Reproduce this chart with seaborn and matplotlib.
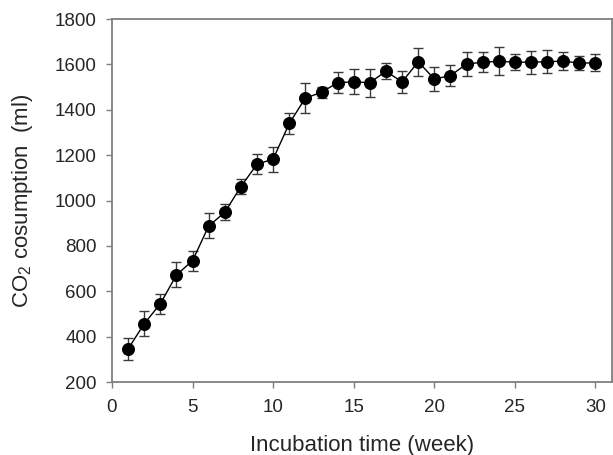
import numpy as np
import pandas as pd
import matplotlib
matplotlib.use("Agg")
import matplotlib.pyplot as plt
import seaborn as sns

# weekly CO2 consumption (ml) and its error
weeks = list(range(1, 31))
co2 = [346, 457, 545, 672, 735, 888, 948, 1062, 1160, 1183,
       1340, 1452, 1477, 1520, 1523, 1520, 1570, 1523, 1612, 1536,
       1551, 1602, 1610, 1614, 1610, 1610, 1612, 1615, 1606, 1607]
err = [48, 55, 45, 55, 44, 55, 35, 35, 45, 55,
       45, 65, 25, 45, 55, 62, 35, 47, 62, 52,
       46, 55, 45, 62, 35, 50, 50, 40, 30, 37]

x_ticks = [0, 5, 10, 15, 20, 25, 30]
y_ticks = [200, 400, 600, 800, 1000, 1200, 1400, 1600, 1800]


def main():
    sns.set_style("white")
    plt.rcParams['font.family'] = ['Liberation Sans', 'DejaVu Sans']
    plt.rcParams['mathtext.default'] = 'regular'

    df = pd.DataFrame({"week": weeks, "co2": co2, "err": err})

    fig = plt.figure(figsize=(6.13, 4.55), dpi=100)
    ax = fig.add_axes([0.1827, 0.1604, 0.815, 0.7976])

    ax.errorbar(df["week"], df["co2"], yerr=df["err"], fmt="none",
                ecolor="#3a3a3a", elinewidth=1.0, capsize=3.3, capthick=1.0,
                zorder=2)
    sns.lineplot(x="week", y="co2", data=df, ax=ax, color="black",
                 linewidth=1.0, marker="o", markersize=8.6,
                 markeredgecolor="black", markerfacecolor="black", zorder=3)

    ax.set_xlim(0, 31)
    ax.set_ylim(200, 1800)
    ax.set_xticks(x_ticks)
    ax.set_yticks(y_ticks)

    for s in ax.spines.values():
        s.set_color("#7f7f7f")
        s.set_linewidth(1.3)

    ax.tick_params(axis="both", which="both", direction="out", length=4,
                   width=1.0, color="#7f7f7f", labelsize=13.5,
                   bottom=True, left=True, top=False, right=False)
    ax.tick_params(axis="x", pad=8)
    ax.tick_params(axis="y", pad=7)

    ax.set_xlabel("Incubation time (week)", fontsize=16, labelpad=14)
    ax.set_ylabel("CO$_2$ cosumption  (ml)", fontsize=16, labelpad=14)

    fig.savefig("out.png", dpi=100)


main()
